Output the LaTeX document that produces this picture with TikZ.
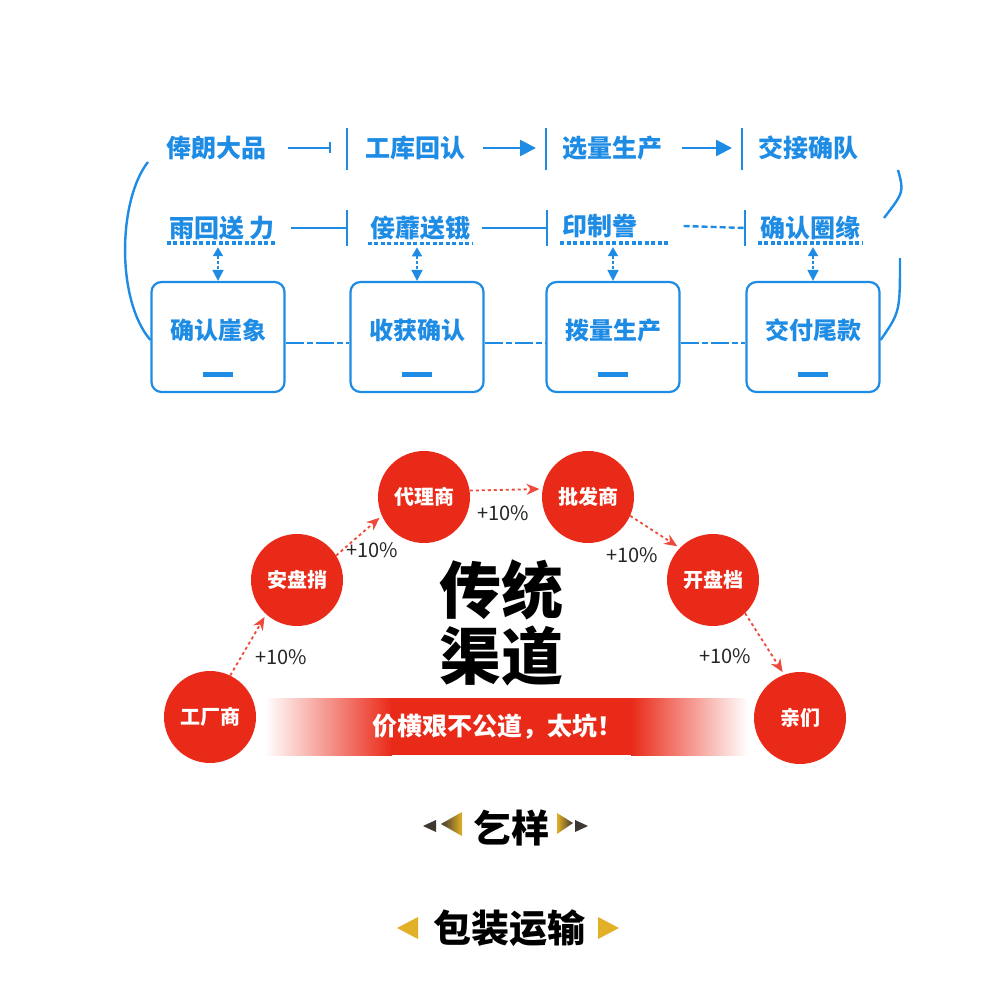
\documentclass[tikz,border=0pt]{standalone}
\usepackage{fontspec}
\setmainfont{Noto Sans CJK SC}
\usetikzlibrary{arrows.meta, positioning, shapes.geometric}
\definecolor{flowblue}{RGB}{30,140,228}
\definecolor{chanred}{RGB}{234,42,24}
\definecolor{tipgold}{RGB}{226,176,38}
\definecolor{tipdark}{RGB}{62,56,50}

\begin{document}
\begin{tikzpicture}[x=1pt, y=-1pt,
    flowtxt/.style={text=flowblue, font=\fontsize{25}{25}\selectfont\bfseries, inner sep=2pt},
    flowline/.style={flowblue, line width=2.4pt},
    flowbox/.style={draw=flowblue, line width=2.2pt, rounded corners=10pt, minimum width=133pt, minimum height=110pt},
    boxtxt/.style={text=flowblue, font=\fontsize{24}{24}\selectfont\bfseries},
    chan/.style={circle, fill=chanred, minimum size=92pt, inner sep=0pt, text=white, font=\fontsize{20}{20}\selectfont\bfseries},
    hop/.style={chanred!85, dashed, line width=1.8pt, -{Stealth[length=13pt, width=11pt]}, shorten >=3pt},
    rise/.style={text=black!85, font=\fontsize{20}{20}\selectfont}]
    \useasboundingbox (0,0) rectangle (1000,1000);

    % Process rows
    \node[flowtxt] (t1) at (216,148) {俸朗大品};
    \node[flowtxt] (t2) at (415,148) {工库回认};
    \node[flowtxt] (t3) at (612,148) {选量生产};
    \node[flowtxt] (t4) at (808,148) {交接确队};
    \coordinate (b1) at (347,148);
    \coordinate (b2) at (546,148);
    \coordinate (b3) at (742,148);
    \draw[flowline] ([yshift=20pt]b1) -- ([yshift=-22pt]b1);
    \draw[flowline] ([yshift=20pt]b2) -- ([yshift=-22pt]b2);
    \draw[flowline] ([yshift=20pt]b3) -- ([yshift=-22pt]b3);
    \draw[flowline, -{Bar[width=11pt, line width=2.4pt]}] ([xshift=20pt]t1.east) -- ([xshift=-16pt]b1);
    \draw[flowline, -{Triangle[length=16pt, width=16pt]}] ([xshift=16pt]t2.east) -- ([xshift=-10pt]b2);
    \draw[flowline, -{Triangle[length=16pt, width=16pt]}] ([xshift=18pt]t3.east) -- ([xshift=-10pt]b3);

    \node[flowtxt] (r1) at (222,228) {雨回送 力};
    \node[flowtxt] (r2) at (420,228) {倿蘼送锇};
    \node[flowtxt] (r3) at (600,226) {印制誊};
    \node[flowtxt] (r4) at (810,228) {确认圈缘};
    \draw[flowblue, line width=3.5pt, dash pattern=on 4pt off 2.5pt] ([yshift=-1pt]r1.south west) -- ([yshift=-1pt]r1.south east);
    \draw[flowblue, line width=3.5pt, dash pattern=on 4pt off 2.5pt] ([yshift=-1pt]r2.south west) -- ([yshift=-1pt]r2.south east);
    \draw[flowblue, line width=3.5pt, dash pattern=on 4pt off 2.5pt] ([yshift=-3pt]r3.south west) -- ([xshift=28pt, yshift=-3pt]r3.south east);
    \draw[flowblue, line width=3.5pt, dash pattern=on 4pt off 2.5pt] ([yshift=-1pt]r4.south west) -- ([yshift=-1pt]r4.south east);
    \coordinate (d1) at (347,228);
    \coordinate (d2) at (547,228);
    \coordinate (d3) at (745,228);
    \draw[flowline] ([yshift=18pt]d1) -- ([yshift=-18pt]d1);
    \draw[flowline] ([yshift=18pt]d2) -- ([yshift=-18pt]d2);
    \draw[flowline] ([yshift=18pt]d3) -- ([yshift=-18pt]d3);
    \draw[flowline] ([xshift=14pt]r1.east) -- (d1);
    \draw[flowline] ([xshift=10pt]r2.east) -- (d2);
    \draw[flowline, dash pattern=on 6pt off 3pt] ([xshift=44pt]r3.east) -- (d3);

    % Boxes
    \node[flowbox] (k1) at (218,337) {};
    \node[flowbox] (k2) at (417,337) {};
    \node[flowbox] (k3) at (613,337) {};
    \node[flowbox] (k4) at (813,337) {};
    \node[boxtxt] (s1) at ([yshift=7pt]k1.center) {确认崖象};
    \node[boxtxt] (s2) at ([yshift=7pt]k2.center) {收获确认};
    \node[boxtxt] (s3) at ([yshift=7pt]k3.center) {拨量生产};
    \node[boxtxt] (s4) at ([yshift=7pt]k4.center) {交付尾款};
    \draw[flowblue, line width=5pt] ([xshift=-15pt, yshift=-37pt]k1.center) -- ([xshift=15pt, yshift=-37pt]k1.center);
    \draw[flowblue, line width=5pt] ([xshift=-15pt, yshift=-37pt]k2.center) -- ([xshift=15pt, yshift=-37pt]k2.center);
    \draw[flowblue, line width=5pt] ([xshift=-15pt, yshift=-37pt]k3.center) -- ([xshift=15pt, yshift=-37pt]k3.center);
    \draw[flowblue, line width=5pt] ([xshift=-15pt, yshift=-37pt]k4.center) -- ([xshift=15pt, yshift=-37pt]k4.center);
    \draw[flowblue, line width=1.8pt, dash pattern=on 3pt off 2pt, {Triangle[length=9pt, width=10pt]}-{Triangle[length=11pt, width=11pt]}] ([yshift=-5pt]r1.south -| k1.north) -- (k1.north);
    \draw[flowblue, line width=1.8pt, dash pattern=on 3pt off 2pt, {Triangle[length=9pt, width=10pt]}-{Triangle[length=11pt, width=11pt]}] ([yshift=-5pt]r2.south -| k2.north) -- (k2.north);
    \draw[flowblue, line width=1.8pt, dash pattern=on 3pt off 2pt, {Triangle[length=9pt, width=10pt]}-{Triangle[length=11pt, width=11pt]}] ([yshift=-7pt]r3.south -| k3.north) -- (k3.north);
    \draw[flowblue, line width=1.8pt, dash pattern=on 3pt off 2pt, {Triangle[length=9pt, width=10pt]}-{Triangle[length=11pt, width=11pt]}] ([yshift=-5pt]r4.south -| k4.north) -- (k4.north);
    \draw[flowblue, line width=2pt, dash pattern=on 18pt off 3pt on 6pt off 3pt] ([yshift=-6pt]k1.east) -- ([yshift=-6pt]k2.west);
    \draw[flowblue, line width=2pt, dash pattern=on 18pt off 3pt on 6pt off 3pt] ([yshift=-6pt]k2.east) -- ([yshift=-6pt]k3.west);
    \draw[flowblue, line width=2pt, dash pattern=on 18pt off 3pt on 6pt off 3pt] ([yshift=-6pt]k3.east) -- ([yshift=-6pt]k4.west);

    % Side loops
    \coordinate (lc) at (148,162);
    \coordinate (rc1) at (898,170);
    \coordinate (rc2) at (884,218);
    \coordinate (rc3) at (900,258);
    \draw[flowline] (lc) .. controls (118,200) and (116,300) .. ([yshift=-3pt]k1.west);
    \draw[flowline] (rc1) .. controls (904,192) .. (rc2);
    \draw[flowline] (rc3) .. controls (900,312) .. ([yshift=-3pt]k4.east);

    % Traditional channel
    \shade[left color=white, right color=chanred] (265,698) rectangle (392,755);
    \fill[chanred] (391,698) rectangle (632,755);
    \shade[left color=chanred, right color=white] (631,698) rectangle (748,755);
    \node[text=white, font=\fontsize{25}{25}\selectfont\bfseries] (slogan) at (497,727) {价横艰不公道，太坑！};

    \node[chan] (c1) at (210,717) {工厂商};
    \node[chan] (c2) at (297,580) {安盘捎};
    \node[chan] (c3) at (424,497) {代理商};
    \node[chan] (c4) at (588,497) {批发商};
    \node[chan] (c5) at (713,580) {开盘档};
    \node[chan] (c6) at (800,718) {亲们};
    \draw[hop] (c1.64) -- (c2.228);
    \draw[hop] (c2.32) -- (c3.204);
    \draw[hop] (c3.8) -- (c4.170);
    \draw[hop] (c4.-24) -- (c5.136);
    \draw[hop] (c5.-46) -- (c6.110);
    \node[rise] (p1) at (281,657) {+10\%};
    \node[rise] (p2) at (372,550) {+10\%};
    \node[rise] (p3) at (503,513) {+10\%};
    \node[rise] (p4) at (632,555) {+10\%};
    \node[rise] (p5) at (725,656) {+10\%};

    \node[font=\fontsize{62}{62}\selectfont\bfseries] (ct1) at (501,590) {传统};
    \node[font=\fontsize{62}{62}\selectfont\bfseries] (ct2) at (501,656) {渠道};

    % Bottom titles
    \node[font=\fontsize{38}{38}\selectfont\bfseries] (q1) at (511,828) {乞样};
    \fill[tipdark] (423,826) -- (436,820) -- (436,832) -- cycle;
    \shade[left color=tipdark, right color=tipgold] (441,824) -- (462,812) -- (462,836) -- cycle;
    \shade[left color=tipgold, right color=tipdark] (557,813) -- (573,823) -- (557,834) -- cycle;
    \fill[tipdark] (588,826) -- (575,820) -- (575,832) -- cycle;

    \node[font=\fontsize{38}{38}\selectfont\bfseries] (q2) at (509,928) {包装运输};
    \fill[tipgold] (397,928) -- (418,917) -- (418,939) -- cycle;
    \fill[tipgold] (619,928) -- (598,917) -- (598,939) -- cycle;
\end{tikzpicture}
\end{document}
